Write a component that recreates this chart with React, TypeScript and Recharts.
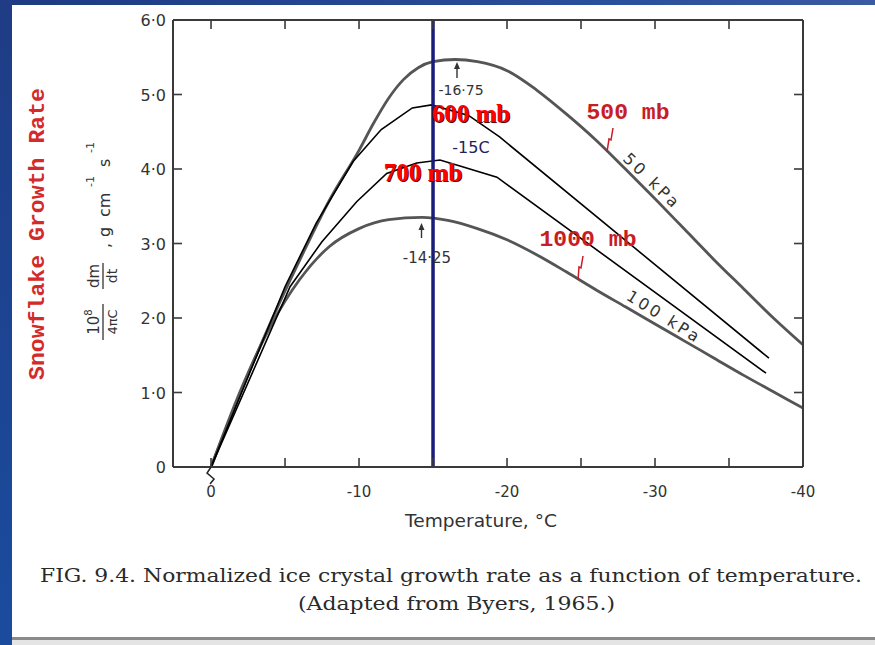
import React from 'react';
import { LineChart, Line, XAxis, YAxis, ReferenceLine } from 'recharts';

// Temperature (°C) and normalized growth rate values
const temps50kPa = [0, -2, -4, -6, -8, -10, -11, -12, -13, -14, -15, -16.5, -18, -20, -22, -24, -26, -28, -30, -32, -34, -36, -38, -40];
const rate50kPa = [0, 1.0, 1.93, 2.78, 3.58, 4.25, 4.62, 4.95, 5.2, 5.36, 5.44, 5.47, 5.44, 5.32, 5.06, 4.74, 4.39, 4.0, 3.6, 3.19, 2.78, 2.39, 2.0, 1.64];

const temps100kPa = [0, -2, -4, -6, -8, -10, -12, -14.25, -16, -18, -20, -22, -24, -26, -28, -30, -32, -34, -36, -38, -40];
const rate100kPa = [0, 1.03, 1.88, 2.52, 2.96, 3.2, 3.32, 3.35, 3.31, 3.2, 3.05, 2.85, 2.62, 2.38, 2.15, 1.92, 1.69, 1.46, 1.23, 1.01, 0.79];

const temps600mb = [0, -5.0, -7.1, -9.6, -11.5, -13.6, -14.9, -17.4, -19.5, -37.7];
const rate600mb = [0, 2.42, 3.27, 4.1, 4.53, 4.82, 4.86, 4.72, 4.43, 1.46];

const temps700mb = [0, -5.34, -7.48, -9.84, -11.87, -13.9, -15.47, -16.82, -19.32, -37.5];
const rate700mb = [0, 2.42, 3.02, 3.56, 3.94, 4.08, 4.12, 4.04, 3.89, 1.26];

const markerTemp = -15;

const xTicks = [0, -5, -10, -15, -20, -25, -30, -35, -40];
const xTickLabels: Record<string, string> = { '0': '0', '-10': '-10', '-20': '-20', '-30': '-30', '-40': '-40' };
const yTicks = [0, 1, 2, 3, 4, 5, 6];
const yTickLabels = ['0', '1·0', '2·0', '3·0', '4·0', '5·0', '6·0'];

const toRows = (t: number[], v: number[]) => t.map((tt, i) => ({ t: tt, y: v[i] }));
const data50 = toRows(temps50kPa, rate50kPa);
const data100 = toRows(temps100kPa, rate100kPa);
const data600 = toRows(temps600mb, rate600mb);
const data700 = toRows(temps700mb, rate700mb);

const AX = '#3a3a3a';
const TXT = '#333';
const SANS = 'DejaVu Sans, sans-serif';

function BottomTick(props: any) {
  const { x, y, payload } = props;
  const v = payload.value;
  const label = xTickLabels[String(v)];
  return (
    <g>
      <line x1={x} x2={x} y1={y} y2={y - 9} stroke={AX} strokeWidth={1.6} />
      {v === 0 && (
        <path d={`M${x} ${y} L${x - 4} ${y + 6} L${x + 3} ${y + 12} L${x - 1} ${y + 17}`} fill="none" stroke="#222" strokeWidth={1.5} />
      )}
      {label !== undefined && (
        <text x={x} y={y + 30} textAnchor="middle" fontFamily={SANS} fontSize={15} fill={TXT}>
          {label}
        </text>
      )}
    </g>
  );
}

function LeftTick(props: any) {
  const { x, y, payload, index } = props;
  const v = payload.value;
  const i = yTicks.indexOf(v);
  return (
    <g>
      {v !== 0 && v !== 6 && <line x1={x} x2={x + 9} y1={y} y2={y} stroke={AX} strokeWidth={1.6} />}
      <text x={x - 7} y={y + 6} textAnchor="end" fontFamily={SANS} fontSize={16} fill={TXT}>
        {yTickLabels[i >= 0 ? i : index]}
      </text>
    </g>
  );
}

function TopTick(props: any) {
  const { x, y, payload } = props;
  if (payload.value === -40) return <g />;
  return <line x1={x} x2={x} y1={y} y2={y + 9} stroke={AX} strokeWidth={1.6} />;
}

function RightTick(props: any) {
  const { x, y, payload } = props;
  if (payload.value === 0 || payload.value === 6) return <g />;
  return <line x1={x} x2={x - 9} y1={y} y2={y} stroke={AX} strokeWidth={1.6} />;
}

function Overlay() {
  const redBig = { fontFamily: 'Liberation Serif, serif', fontWeight: 700, fontSize: 25 } as const;
  const redMono = { fontFamily: 'Liberation Mono, monospace', fontWeight: 700, fontSize: 22 } as const;
  return (
    <svg width={875} height={645} style={{ position: 'absolute', left: 0, top: 0, pointerEvents: 'none' }}>
      {/* red side title */}
      <text
        transform="translate(38,234) rotate(-90)"
        textAnchor="middle"
        dominantBaseline="central"
        fontFamily="Liberation Mono, monospace"
        fontWeight={700}
        fontSize={22}
        fill="#d42a2a"
        textLength={292}
        lengthAdjust="spacingAndGlyphs"
      >
        Snowflake Growth Rate
      </text>

      {/* y axis label */}
      <g transform="translate(103,245) rotate(-90)" fontFamily={SANS} fill={TXT}>
        <text x={-77} y={-4} textAnchor="middle" fontSize={15}>
          10<tspan dy={-7} fontSize={10}>8</tspan>
        </text>
        <line x1={-95} x2={-59} y1={0} y2={0} stroke={TXT} strokeWidth={1.3} />
        <text x={-77} y={14} textAnchor="middle" fontSize={13}>4πC</text>
        <text x={-31} y={-4} textAnchor="middle" fontSize={15}>dm</text>
        <line x1={-44} x2={-18} y1={0} y2={0} stroke={TXT} strokeWidth={1.3} />
        <text x={-31} y={14} textAnchor="middle" fontSize={14}>dt</text>
        <text x={-3} y={7} fontSize={16}>,</text>
        <text x={8} y={7} fontSize={16}>g</text>
        <text x={28} y={7} fontSize={16}>cm</text>
        <text x={58} y={-9} fontSize={11}>-1</text>
        <text x={78} y={7} fontSize={16}>s</text>
        <text x={92} y={-9} fontSize={11}>-1</text>
      </g>

      {/* x axis title */}
      <text x={481} y={527} textAnchor="middle" fontFamily={SANS} fontSize={17} fill={TXT} textLength={152} lengthAdjust="spacingAndGlyphs">
        Temperature, °C
      </text>

      {/* peak annotations */}
      <line x1={457} x2={457} y1={78} y2={66} stroke={TXT} strokeWidth={1.4} />
      <path d="M454 69 L457 62 L460 69 Z" fill={TXT} />
      <text x={461} y={95} textAnchor="middle" fontFamily={SANS} fontSize={14} fill={TXT}>-16·75</text>
      <line x1={421.5} x2={421.5} y1={238} y2={227} stroke={TXT} strokeWidth={1.4} />
      <path d="M418.5 230 L421.5 223 L424.5 230 Z" fill={TXT} />
      <text x={427} y={263} textAnchor="middle" fontFamily={SANS} fontSize={15} fill={TXT}>-14·25</text>
      <text x={471} y={153} textAnchor="middle" fontFamily={SANS} fontSize={16} fill="#22225a">-15C</text>

      {/* curve labels */}
      <text transform="translate(651,180) rotate(44)" textAnchor="middle" dominantBaseline="central" fontFamily={SANS} fontSize={16} fill={TXT} textLength={70} lengthAdjust="spacing">50 kPa</text>
      <text transform="translate(663,316) rotate(32)" textAnchor="middle" dominantBaseline="central" fontFamily={SANS} fontSize={16} fill={TXT} textLength={82} lengthAdjust="spacing">100 kPa</text>

      {/* red pressure labels */}
      <text x={472} y={123} textAnchor="middle" {...redBig} fill="#5a0000">600 mb</text>
      <text x={471} y={122} textAnchor="middle" {...redBig} fill="#ff0000">600 mb</text>
      <text x={424} y={182} textAnchor="middle" {...redBig} fill="#5a0000">700 mb</text>
      <text x={423} y={181} textAnchor="middle" {...redBig} fill="#ff0000">700 mb</text>
      <text x={628} y={119} textAnchor="middle" {...redMono} fill="#c81c26" textLength={83} lengthAdjust="spacingAndGlyphs">500 mb</text>
      <text x={588} y={246} textAnchor="middle" {...redMono} fill="#c81c26" textLength={97} lengthAdjust="spacingAndGlyphs">1000 mb</text>
      <path d="M613 128 L611 140 L609 139 L607 152" fill="none" stroke="#c81c26" strokeWidth={1.5} />
      <path d="M583 256 L581 268 L579 267 L578 280" fill="none" stroke="#c81c26" strokeWidth={1.5} />

      {/* caption */}
      <text x={40} y={582} fontFamily="DejaVu Serif, serif" fontSize={19} fill="#2a2a2a" textLength={822} lengthAdjust="spacingAndGlyphs">
        FIG. 9.4. Normalized ice crystal growth rate as a function of temperature.
      </text>
      <text x={298} y={610} fontFamily="DejaVu Serif, serif" fontSize={19} fill="#2a2a2a" textLength={317} lengthAdjust="spacingAndGlyphs">
        (Adapted from Byers, 1965.)
      </text>
    </svg>
  );
}

export default function App() {
  return (
    <div style={{ position: 'absolute', left: 0, top: 0, width: 875, height: 645, background: '#ffffff', overflow: 'hidden' }}>
      {/* slide frame */}
      <div style={{ position: 'absolute', left: 0, top: 0, width: 875, height: 5, background: 'linear-gradient(90deg, #1d3a82, #2a4f9c 70%, #3a5aa2)' }} />
      <div style={{ position: 'absolute', left: 0, top: 0, width: 12, height: 645, background: 'linear-gradient(180deg, #1f3c85, #1a4c9e)' }} />
      <div style={{ position: 'absolute', left: 12, top: 637, width: 863, height: 3, background: '#8a8a8a' }} />
      <div style={{ position: 'absolute', left: 12, top: 640, width: 863, height: 5, background: '#e4e4e4' }} />

      <div style={{ position: 'absolute', left: 0, top: 0 }}>
        <LineChart width={875} height={645} margin={{ top: 19, right: 71, bottom: 148, left: 113 }}>
          <XAxis
            dataKey="t"
            type="number"
            domain={[-40, 2.57]}
            reversed
            allowDataOverflow
            ticks={xTicks}
            interval={0}
            height={30}
            tickSize={0}
            tickMargin={0}
            axisLine={{ stroke: AX, strokeWidth: 2 }}
            tickLine={false}
            tick={(p: any) => <BottomTick {...p} />}
          />
          <XAxis
            xAxisId="top"
            orientation="top"
            dataKey="t"
            type="number"
            domain={[-40, 2.57]}
            reversed
            allowDataOverflow
            ticks={xTicks}
            interval={0}
            height={1}
            tickSize={0}
            tickMargin={0}
            axisLine={{ stroke: AX, strokeWidth: 2 }}
            tickLine={false}
            tick={(p: any) => <TopTick {...p} />}
          />
          <YAxis
            type="number"
            domain={[0, 6]}
            allowDataOverflow
            ticks={yTicks}
            interval={0}
            width={60}
            tickSize={0}
            tickMargin={0}
            axisLine={{ stroke: AX, strokeWidth: 2 }}
            tickLine={false}
            tick={(p: any) => <LeftTick {...p} />}
          />
          <YAxis
            yAxisId="right"
            orientation="right"
            type="number"
            domain={[0, 6]}
            allowDataOverflow
            ticks={yTicks}
            interval={0}
            width={1}
            tickSize={0}
            tickMargin={0}
            axisLine={{ stroke: AX, strokeWidth: 2 }}
            tickLine={false}
            tick={(p: any) => <RightTick {...p} />}
          />
          <Line data={data50} dataKey="y" type="monotone" stroke="#555" strokeWidth={2.8} dot={false} isAnimationActive={false} />
          <Line data={data100} dataKey="y" type="monotone" stroke="#555" strokeWidth={2.8} dot={false} isAnimationActive={false} />
          <Line data={data600} dataKey="y" type="linear" stroke="#000" strokeWidth={1.6} dot={false} isAnimationActive={false} />
          <Line data={data700} dataKey="y" type="linear" stroke="#000" strokeWidth={1.6} dot={false} isAnimationActive={false} />
          <ReferenceLine x={markerTemp} stroke="#1b1b7a" strokeWidth={3.5} />
        </LineChart>
      </div>
      <Overlay />
    </div>
  );
}
